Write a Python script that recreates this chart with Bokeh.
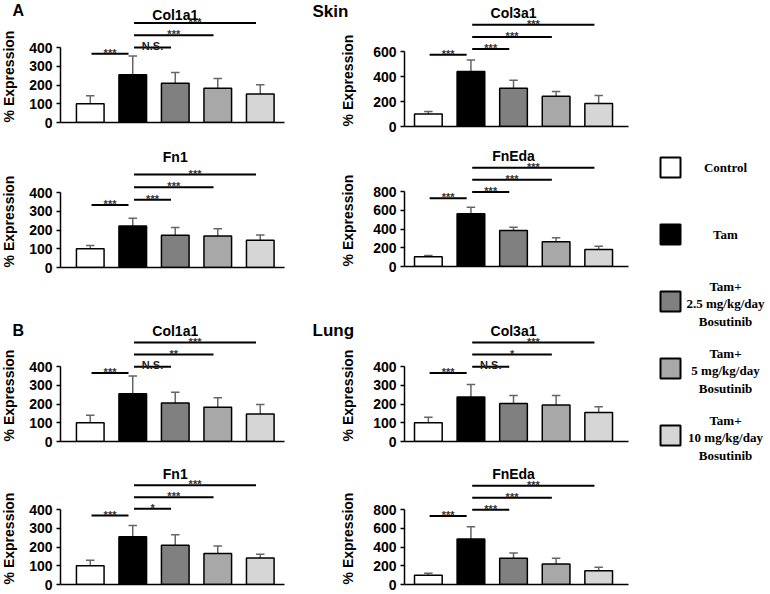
import math
from bokeh.plotting import figure
from bokeh.models import Range1d, FixedTicker, Label, ColumnDataSource
from bokeh.layouts import row, column
from bokeh.embed import file_html
from bokeh.resources import INLINE
from bokeh.core.properties import value

# ---------------- data ----------------
groups = ["Control", "Tam", "Tam+ 2.5 mg/kg/day Bosutinib",
          "Tam+ 5 mg/kg/day Bosutinib", "Tam+ 10 mg/kg/day Bosutinib"]
legend_lines = [["Control"], ["Tam"],
                ["Tam+", "2.5 mg/kg/day", "Bosutinib"],
                ["Tam+", "5 mg/kg/day", "Bosutinib"],
                ["Tam+", "10 mg/kg/day", "Bosutinib"]]
bar_colors = ["#ffffff", "#000000", "#808080", "#a8a8a8", "#d6d6d6"]

comparisons = [(0, 1), (1, 2), (1, 3), (1, 4)]

# Skin (A)
skin_col1a1_mean = [100, 255, 210, 183, 152]
skin_col1a1_err = [43, 100, 57, 52, 50]
skin_col1a1_sig = ["***", "N.S.", "***", "***"]
skin_col1a1_lvl = [367, 400, 466, 531]

skin_col3a1_mean = [100, 440, 307, 243, 184]
skin_col3a1_err = [21, 93, 64, 37, 64]
skin_col3a1_sig = ["***", "***", "***", "***"]
skin_col3a1_lvl = [574, 621, 717, 814]

skin_fn1_mean = [100, 221, 172, 168, 146]
skin_fn1_err = [18, 42, 42, 39, 28]
skin_fn1_sig = ["***", "***", "***", "***"]
skin_fn1_lvl = [333, 362, 428, 496]

skin_fneda_mean = [103, 562, 384, 263, 181]
skin_fneda_err = [14, 71, 36, 43, 36]
skin_fneda_sig = ["***", "***", "***", "***"]
skin_fneda_lvl = [728, 795, 925, 1053]

# Lung (B)
lung_col1a1_mean = [100, 255, 205, 183, 147]
lung_col1a1_err = [40, 95, 58, 50, 50]
lung_col1a1_sig = ["***", "N.S.", "**", "***"]
lung_col1a1_lvl = [366, 399, 464, 528]

lung_col3a1_mean = [100, 238, 203, 195, 155]
lung_col3a1_err = [30, 66, 43, 50, 30]
lung_col3a1_sig = ["***", "N.S.", "*", "***"]
lung_col3a1_lvl = [366, 399, 464, 528]

lung_fn1_mean = [100, 255, 210, 165, 142]
lung_fn1_err = [30, 60, 55, 40, 20]
lung_fn1_sig = ["***", "*", "***", "***"]
lung_fn1_lvl = [368, 404, 466, 530]

lung_fneda_mean = [100, 485, 280, 220, 148]
lung_fneda_err = [20, 130, 55, 60, 35]
lung_fneda_sig = ["***", "***", "***", "***"]
lung_fneda_lvl = [730, 797, 925, 1053]

y_label = "% Expression"

SANS = "Liberation Sans"
SERIF = "Liberation Serif"
PX_PER_CAT = 42.85
AXIS_PX = 75.0
TOTAL_H = 592


def clean(p):
    p.xgrid.visible = False
    p.ygrid.visible = False
    p.outline_line_color = None
    p.background_fill_color = "white"
    p.border_fill_color = "white"


def panel(title, means, errs, sig, lvls, axis_max, step, frame_h, bottom, side,
          title_px=111):
    if side == "L":
        x0, x1 = -0.7, 4.57
        left_b, right_b = 32, 16
    else:
        x0, x1 = -0.56, 4.7
        left_b, right_b = 33, 5
    frame_w = round((x1 - x0) * PX_PER_CAT)
    u = axis_max / AXIS_PX  # data units per pixel
    y_end = frame_h * u
    p = figure(width=left_b + frame_w + right_b, height=frame_h + bottom,
               x_range=Range1d(x0, x1), y_range=Range1d(0, y_end),
               output_backend="svg", toolbar_location=None, title=None,
               min_border_left=left_b, min_border_right=right_b,
               min_border_top=0, min_border_bottom=bottom)
    clean(p)

    ya = p.yaxis[0]
    ya.ticker = FixedTicker(ticks=list(range(0, axis_max + 1, step)))
    ya.bounds = (0, axis_max)
    ya.major_label_text_font = SANS
    ya.major_label_text_font_style = "bold"
    ya.major_label_text_font_size = "14px"
    ya.major_label_text_color = "black"
    ya.major_label_standoff = 4
    ya.major_tick_out = 4
    ya.major_tick_in = 0
    ya.minor_tick_out = 0
    ya.minor_tick_in = 0
    ya.axis_line_width = 1.5
    ya.major_tick_line_width = 1.5

    xa = p.xaxis[0]
    xa.ticker = FixedTicker(ticks=[])
    xa.minor_tick_out = 0
    xa.minor_tick_in = 0
    xa.major_tick_out = 0
    xa.major_tick_in = 0
    xa.major_label_standoff = 0
    xa.axis_line_width = 1.5

    xs = list(range(len(groups)))
    tops = [m + e for m, e in zip(means, errs)]
    src = ColumnDataSource(dict(x=xs, mean=means, top=tops, color=bar_colors,
                                cl=[x - 0.1 for x in xs], cr=[x + 0.1 for x in xs]))
    p.segment(x0="x", y0="mean", x1="x", y1="top", source=src,
              line_color="#666666", line_width=1.5)
    p.segment(x0="cl", y0="top", x1="cr", y1="top", source=src,
              line_color="#666666", line_width=1.5)
    p.vbar(x="x", top="mean", width=0.65, bottom=0, source=src,
           fill_color="color", line_color="black", line_width=1.5)

    bx0 = [a + 0.03 for a, b in comparisons]
    bx1 = [b - 0.1 for a, b in comparisons]
    bxm = [(a + b) / 2 for a, b in zip(bx0, bx1)]
    p.segment(x0=bx0, y0=lvls, x1=bx1, y1=lvls, line_color="black", line_width=2)
    stars = [i for i, s in enumerate(sig) if s != "N.S."]
    ns = [i for i, s in enumerate(sig) if s == "N.S."]
    if stars:
        p.text(x=[bxm[i] for i in stars], y=[lvls[i] for i in stars],
               text=[sig[i] for i in stars], text_align="center",
               text_baseline="alphabetic", y_offset=-1,
               text_font=value(SANS), text_font_style="bold",
               text_font_size="11px", text_color="#333333")
    if ns:
        p.text(x=[bxm[i] for i in ns], y=[lvls[i] for i in ns],
               text=[sig[i] for i in ns], text_align="center",
               text_baseline="alphabetic", y_offset=-2,
               text_font=value(SANS), text_font_style="bold",
               text_font_size="11px", text_color="#222222")

    p.add_layout(Label(x=(len(groups) - 1) / 2, y=title_px * u, text=title,
                       text_align="center", text_baseline="middle",
                       text_font=SANS, text_font_style="bold",
                       text_font_size="14px", text_color="black"))
    return p


def strip(width, corners, label_x, label_y):
    s = figure(width=width, height=TOTAL_H, x_range=Range1d(0, width),
               y_range=Range1d(TOTAL_H, 0), output_backend="svg",
               toolbar_location=None, title=None, x_axis_location=None,
               y_axis_location=None, min_border=0)
    clean(s)
    for txt, cx, cy, fs in corners:
        s.text(x=[cx], y=[cy], text=[txt], text_align="left",
               text_baseline="middle", text_font=value(SANS),
               text_font_style="bold", text_font_size=fs, text_color="black")
    s.text(x=[label_x] * len(label_y), y=label_y, text=[y_label] * len(label_y),
           angle=math.pi / 2, text_align="center", text_baseline="middle",
           text_font=value(SANS), text_font_style="bold", text_font_size="14px",
           text_color="black")
    return s


L1 = panel("Col1a1", skin_col1a1_mean, skin_col1a1_err, skin_col1a1_sig, skin_col1a1_lvl,
           400, 100, 122, 18, "L", title_px=108)
L2 = panel("Fn1", skin_fn1_mean, skin_fn1_err, skin_fn1_sig, skin_fn1_lvl,
           400, 100, 127, 23, "L")
L3 = panel("Col1a1", lung_col1a1_mean, lung_col1a1_err, lung_col1a1_sig, lung_col1a1_lvl,
           400, 100, 151, 19, "L")
L4 = panel("Fn1", lung_fn1_mean, lung_fn1_err, lung_fn1_sig, lung_fn1_lvl,
           400, 100, 124, 8, "L")

R1 = panel("Col3a1", skin_col3a1_mean, skin_col3a1_err, skin_col3a1_sig, skin_col3a1_lvl,
           600, 200, 126, 18, "R", title_px=114)
R2 = panel("FnEda", skin_fneda_mean, skin_fneda_err, skin_fneda_sig, skin_fneda_lvl,
           800, 200, 122, 24, "R")
R3 = panel("Col3a1", lung_col3a1_mean, lung_col3a1_err, lung_col3a1_sig, lung_col3a1_lvl,
           400, 100, 151, 19, "R")
R4 = panel("FnEda", lung_fneda_mean, lung_fneda_err, lung_fneda_sig, lung_fneda_lvl,
           800, 200, 124, 8, "R")

SL = strip(26, [("A", 12, 10, "16px"), ("B", 12, 330, "16px")], 8, [76, 221, 395, 538])
SR = strip(70, [("Skin", 12, 11, "17px"), ("Lung", 12, 330, "17px")], 47, [80, 220, 395, 538])

# ---------------- legend ----------------
LW = 135
lg = figure(width=LW, height=TOTAL_H, x_range=Range1d(0, LW), y_range=Range1d(TOTAL_H, 0),
            output_backend="svg", toolbar_location=None, title=None,
            x_axis_location=None, y_axis_location=None, min_border=0)
clean(lg)
sq_y = [167 + 67 * i for i in range(len(groups))]
lg.rect(x=[37] * len(groups), y=sq_y, width=20, height=20,
        fill_color=bar_colors, line_color="black", line_width=2)
tx, ty, tt = [], [], []
for i, lines in enumerate(legend_lines):
    n = len(lines)
    for k, s in enumerate(lines):
        tx.append(92)
        ty.append(sq_y[i] + (k - (n - 1) / 2) * 17.5 + (2 if n > 1 else 0))
        tt.append(s)
lg.text(x=tx, y=ty, text=tt, text_align="center", text_baseline="middle",
        text_font=value(SERIF), text_font_style="bold", text_font_size="13px",
        text_color="black")

layout = row(SL, column(L1, L2, L3, L4), SR, column(R1, R2, R3, R4), lg)

open("out.html", "w").write(file_html(layout, INLINE))
